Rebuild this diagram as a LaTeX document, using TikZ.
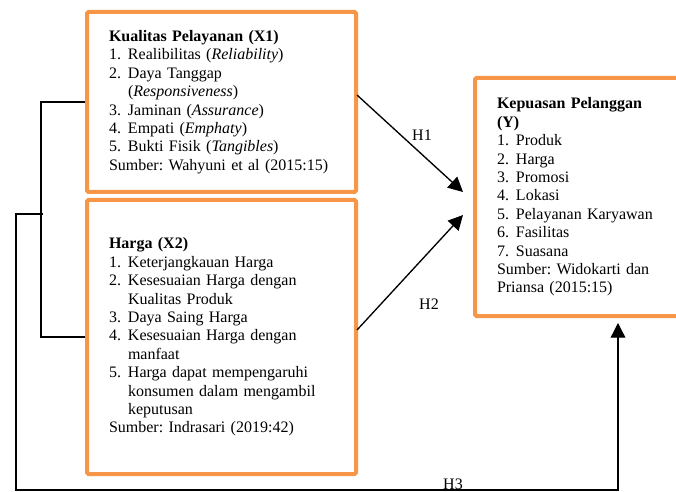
\documentclass[tikz,border=0pt]{standalone}
\usepackage{fontspec}
\setmainfont{Liberation Serif}
\usetikzlibrary{arrows.meta}
\definecolor{boxorange}{HTML}{F79646}
\newcommand{\numitem}[2]{\makebox[14.25pt][l]{#1}#2}
\newcommand{\contline}[1]{\hspace*{14.25pt}#1}
\frenchspacing
\tikzset{
  varbox/.style={draw=boxorange, line width=3pt, rounded corners=1pt, align=left,
    inner xsep=16.5pt, inner ysep=0pt, font=\fontsize{12}{13.8}\selectfont},
  link/.style={line width=1pt},
  hyp/.style={line width=1pt, -{Triangle[length=11pt,width=11pt]}},
  hyplabel/.style={font=\fontsize{12}{13.8}\selectfont, inner sep=0pt}
}

\begin{document}
\begin{tikzpicture}[x=0.75pt, y=-0.75pt]
			\useasboundingbox (0,0) rectangle (676,492);
			\clip (0,0) rectangle (676,492);
			
			%% variable boxes
			\node[varbox, text width=168.75pt, minimum height=135pt] (x1box) at (221.5,102) {%
				\textbf{Kualitas Pelayanan (X1)}\\
				\numitem{1.}{Realibilitas (\textit{Reliability})}\\
				\numitem{2.}{Daya Tanggap}\\
				\contline{(\textit{Responsiveness})}\\
				\numitem{3.}{Jaminan (\textit{Assurance})}\\
				\numitem{4.}{Empati (\textit{Emphaty})}\\
				\numitem{5.}{Bukti Fisik (\textit{Tangibles})}\\
				Sumber: Wahyuni et al (2015:15)};
			
			\node[varbox, text width=168.75pt, minimum height=205.5pt] (x2box) at (221.5,337) {%
				\textbf{Harga (X2)}\\
				\numitem{1.}{Keterjangkauan Harga}\\
				\numitem{2.}{Kesesuaian Harga dengan}\\
				\contline{Kualitas Produk}\\
				\numitem{3.}{Daya Saing Harga}\\
				\numitem{4.}{Kesesuaian Harga dengan}\\
				\contline{manfaat}\\
				\numitem{5.}{Harga dapat mempengaruhi}\\
				\contline{konsumen dalam mengambil}\\
				\contline{keputusan}\\
				Sumber: Indrasari (2019:42)};
			
			\node[varbox, text width=122.25pt, minimum height=178.5pt] (ybox) at (578.5,197) {%
				\textbf{Kepuasan Pelanggan}\\
				\textbf{(Y)}\\
				\numitem{1.}{Produk}\\
				\numitem{2.}{Harga}\\
				\numitem{3.}{Promosi}\\
				\numitem{4.}{Lokasi}\\
				\numitem{5.}{Pelayanan Karyawan}\\
				\numitem{6.}{Fasilitas}\\
				\numitem{7.}{Suasana}\\
				Sumber: Widokarti dan\\
				Priansa (2015:15)};
			
			%% connector ends
			\coordinate (h1from) at (357,95);
			\coordinate (h1to) at (463,192);
			\coordinate (h2from) at (357,330);
			\coordinate (h2to) at (463,215);
			\coordinate (join) at (43,214);
			\coordinate (h3to) at (618,323);
			
			%% bracket joining X1 and X2
			\draw[link] (x1box.west) -- ++(-44,0) |- (x2box.west);
			
			%% hypotheses
			\draw[hyp] (h1from) -- (h1to);
			\draw[hyp] (h2from) -- (h2to);
			\draw[hyp] (join) -| (16,490) -| (h3to);
			
			\node[hyplabel] (h1lbl) at (422,135) {H1};
			\node[hyplabel] (h2lbl) at (429,304) {H2};
			\node[hyplabel] (h3lbl) at (453,484) {H3};
\end{tikzpicture}
\end{document}
